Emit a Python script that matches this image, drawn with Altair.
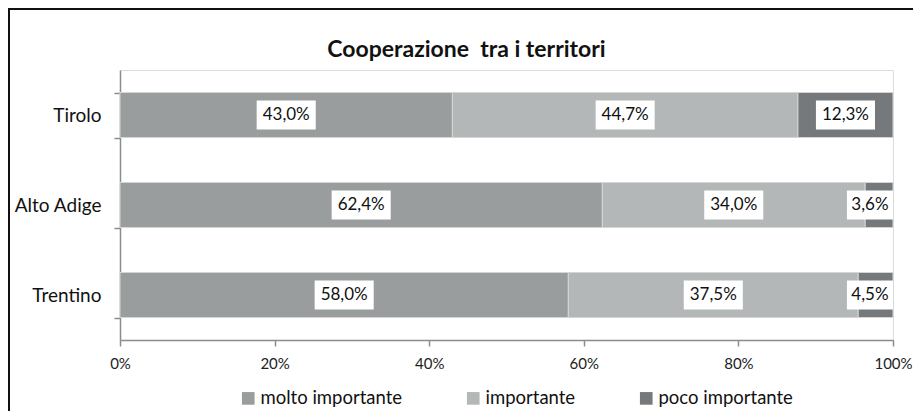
import altair as alt
import pandas as pd

categories = ["Tirolo", "Alto Adige", "Trentino"]
series = ["molto importante", "importante", "poco importante"]
molto = [43.0, 62.4, 58.0]
importante = [44.7, 34.0, 37.5]
poco = [12.3, 3.6, 4.5]
colors = ["#9a9d9d", "#b4b7b7", "#76797b"]
x_ticks = [0, 20, 40, 60, 80, 100]

rows = []
for i, c in enumerate(categories):
    for j, (s, vals) in enumerate(zip(series, [molto, importante, poco])):
        rows.append({"cat": c, "serie": s, "ord": j, "value": vals[i]})
df = pd.DataFrame(rows)

FONT = "Lato"

base = alt.Chart(df).transform_stack(
    stack="value", groupby=["cat"], sort=[alt.SortField("ord")], as_=["v0", "v1"]
)

y_enc = alt.Y(
    "cat:N",
    sort=categories,
    scale=alt.Scale(paddingInner=0.5, paddingOuter=0.25),
    axis=alt.Axis(
        title=None, tickBand="extent", tickSize=6, tickColor="#8c8c8c",
        domainColor="#8c8c8c", domainWidth=1.5, tickWidth=1.5,
        labelFontSize=19, labelColor="#111", labelPadding=13, labelFont=FONT,
    ),
)
x_scale = alt.Scale(domain=[0, 100], nice=False)

bars = base.mark_bar(stroke="#d4d6d6", strokeWidth=1).encode(
    y=y_enc,
    x=alt.X(
        "v0:Q", scale=x_scale,
        axis=alt.Axis(
            title=None, values=x_ticks, labelExpr="datum.value + '%'",
            grid=False, tickSize=6, tickColor="#8c8c8c", domainColor="#8c8c8c",
            domainWidth=1.5, tickWidth=1.5, labelFlush=False, labelFontSize=15,
            labelColor="#222", labelPadding=10, labelFont=FONT,
        ),
    ),
    x2="v1:Q",
    color=alt.Color(
        "serie:N",
        scale=alt.Scale(domain=series, range=colors),
        legend=alt.Legend(
            title=None, orient="none", direction="horizontal", legendX=119, legendY=319,
            symbolType="square", symbolSize=160, symbolStrokeWidth=0, labelFontSize=18.5,
            labelFont=FONT, labelColor="#111", labelOffset=3, columnPadding=61, padding=0,
        ),
    ),
    order=alt.Order("ord:Q"),
)

lab = base.transform_calculate(
    label="replace(format(datum.value, '.1f'), '.', ',') + '%'",
    mid="(datum.v0 + datum.v1) / 2",
).transform_calculate(
    halfw="length(datum.label) >= 5 ? 3.82 : 2.98",
).transform_calculate(
    center="min(datum.mid, 100 - datum.halfw)",
).transform_calculate(
    lo="datum.center - datum.halfw", hi="datum.center + datum.halfw"
)

boxes = lab.mark_bar(color="white", size=29).encode(
    y=alt.Y("cat:N", sort=categories),
    x=alt.X("lo:Q", scale=x_scale),
    x2="hi:Q",
)
texts = lab.mark_text(fontSize=17, font=FONT, color="#111").encode(
    y=alt.Y("cat:N", sort=categories),
    x=alt.X("center:Q", scale=x_scale),
    text="label:N",
)

frame_top = alt.Chart(pd.DataFrame({"k": [0]})).mark_rule(
    stroke="#111", strokeWidth=2
).encode(x=alt.value(-112), x2=alt.value(900), y=alt.value(-61))
frame_left = alt.Chart(pd.DataFrame({"k": [0]})).mark_rule(
    stroke="#111", strokeWidth=2
).encode(x=alt.value(-111), y=alt.value(-62), y2=alt.value(400))

chart = alt.layer(frame_top, frame_left, bars, boxes, texts).properties(
    width=773, height=270,
    title=alt.TitleParams(
        "Cooperazione\u00a0 tra i territori", fontSize=23, font=FONT, fontWeight="bold",
        color="#111", anchor="middle", dx=-40, offset=-55,
    ),
    autosize=alt.AutoSizeParams(type="none"),
    padding={"left": 112, "top": 62, "right": 20, "bottom": 71},
).configure_view(stroke=None).configure(font=FONT)

chart.save("out.html", embed_options={"renderer": "svg", "actions": False})
